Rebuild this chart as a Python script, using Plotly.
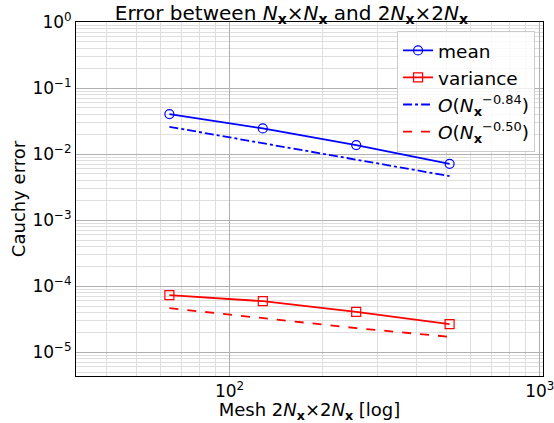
import plotly.graph_objects as go
import numpy as np

# Data
mesh = [64, 128, 256, 512]
mean_err = [0.0404, 0.0245, 0.0137, 0.00713]
var_err = [7.31e-5, 5.93e-5, 4.08e-5, 2.66e-5]
fit_mean = [0.0259, 0.0145, 0.00815, 0.00464]
fit_var = [4.64e-5, 3.28e-5, 2.32e-5, 1.71e-5]

x_tickvals = [100, 1000]
x_ticktext = ["10<sup>2</sup>", "10<sup>3</sup>"]
y_tickvals = [1, 0.1, 0.01, 0.001, 1e-4, 1e-5]
y_ticktext = ["10<sup>0</sup>", "10<sup>−1</sup>", "10<sup>−2</sup>", "10<sup>−3</sup>",
              "10<sup>−4</sup>", "10<sup>−5</sup>"]

NX = "<i>N</i><sub><b>x</b></sub>"
font_family = "DejaVu Sans"

fig = go.Figure()
fig.add_trace(go.Scatter(x=mesh, y=mean_err, mode="lines+markers", name="mean",
                         line=dict(color="#0000ff", width=1.8),
                         marker=dict(symbol="circle-open", size=9, color="#0000ff", line=dict(width=1.2))))
fig.add_trace(go.Scatter(x=mesh, y=var_err, mode="lines+markers", name="variance",
                         line=dict(color="#ff0000", width=1.8),
                         marker=dict(symbol="square-open", size=9, color="#ff0000", line=dict(width=1.2))))
fig.add_trace(go.Scatter(x=mesh, y=fit_mean, mode="lines",
                         name="<i>O</i>(" + NX + "<sup>−0.84</sup>)",
                         line=dict(color="#0000ff", width=1.8, dash="dashdot")))
fig.add_trace(go.Scatter(x=mesh, y=fit_var, mode="lines",
                         name="<i>O</i>(" + NX + "<sup>−0.50</sup>)",
                         line=dict(color="#ff0000", width=1.8, dash="dash")))

title = "Error between " + NX + "×" + NX + " and 2" + NX + "×2" + NX

fig.update_layout(
    width=554, height=423,
    margin=dict(l=76, r=11, t=22, b=47, autoexpand=False),
    paper_bgcolor="white", plot_bgcolor="white",
    font=dict(family=font_family, size=14, color="black"),
    title=dict(text=title, x=0.526, xanchor="center", y=0.970, yanchor="middle",
               font=dict(size=20, family=font_family, color="black")),
    showlegend=True,
    legend=dict(x=0.983, y=0.975, xanchor="right", yanchor="top",
                bgcolor="rgba(255,255,255,0.8)", bordercolor="#cccccc", borderwidth=1,
                font=dict(size=18.5, family=font_family), tracegroupgap=0),
)

fig.update_xaxes(type="log", range=[np.log10(32), np.log10(1024)],
                 showline=True, linecolor="black", linewidth=1, mirror=True,
                 showgrid=True, gridcolor="#b0b0b0", gridwidth=1,
                 tickvals=x_tickvals, ticktext=x_ticktext, ticks="",
                 ticklabeloverflow="allow", automargin=False,
                 tickfont=dict(size=17),
                 minor=dict(showgrid=True, gridcolor="#dedede", gridwidth=1, dtick="D1"),
                 title=dict(text="Mesh 2" + NX + "×2" + NX + " [log]", font=dict(size=18), standoff=1),
                 zeroline=False)
fig.update_yaxes(type="log", range=[-5.36, 0],
                 showline=True, linecolor="black", linewidth=1, mirror=True,
                 showgrid=True, gridcolor="#b0b0b0", gridwidth=1,
                 tickvals=y_tickvals, ticktext=y_ticktext, ticks="",
                 automargin=False,
                 tickfont=dict(size=17),
                 minor=dict(showgrid=True, gridcolor="#dedede", gridwidth=1, dtick="D1"),
                 title=dict(text="Cauchy error", font=dict(size=18), standoff=2),
                 zeroline=False)

fig.write_html("out.html")
